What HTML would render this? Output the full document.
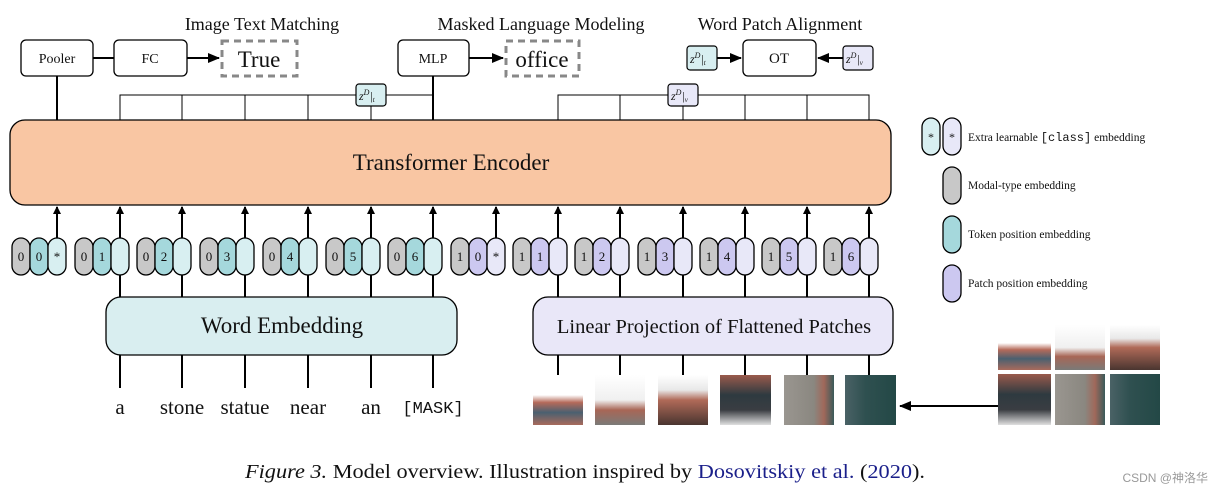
<!DOCTYPE html>
<html><head><meta charset="utf-8"><style>
body{margin:0;background:#fff}
svg{display:block}
text{font-family:"Liberation Serif",serif;fill:#111}
</style></head><body>
<svg width="1222" height="495" viewBox="0 0 1222 495" xmlns="http://www.w3.org/2000/svg">
<defs>
<marker id="ah" markerWidth="8" markerHeight="8" refX="7" refY="4" orient="auto" markerUnits="userSpaceOnUse"><path d="M0,0 L8,4 L0,8 Z" fill="#000"/></marker>
<marker id="ah2" markerWidth="12" markerHeight="10" refX="11" refY="5" orient="auto" markerUnits="userSpaceOnUse"><path d="M0,0 L12,5 L0,10 Z" fill="#000"/></marker>
<linearGradient id="p1" x1="0" y1="0" x2="0" y2="1"><stop offset="0" stop-color="#fff"/><stop offset="0.4" stop-color="#fff"/><stop offset="0.55" stop-color="#b56a5a"/><stop offset="0.75" stop-color="#4a6070"/><stop offset="1" stop-color="#a86a5c"/></linearGradient>
<linearGradient id="p2" x1="0" y1="0" x2="0" y2="1"><stop offset="0" stop-color="#fff"/><stop offset="0.5" stop-color="#f0f0f0"/><stop offset="0.7" stop-color="#a86656"/><stop offset="1" stop-color="#7a7a78"/></linearGradient>
<linearGradient id="p3" x1="0" y1="0" x2="0" y2="1"><stop offset="0" stop-color="#fff"/><stop offset="0.3" stop-color="#e8e8e8"/><stop offset="0.5" stop-color="#b06a58"/><stop offset="1" stop-color="#4a3530"/></linearGradient>
<linearGradient id="p4" x1="0" y1="0" x2="0" y2="1"><stop offset="0" stop-color="#9a5a4c"/><stop offset="0.4" stop-color="#2e3a40"/><stop offset="0.7" stop-color="#3a3d42"/><stop offset="1" stop-color="#e0e0e0"/></linearGradient>
<linearGradient id="p5" x1="0" y1="0" x2="1" y2="0"><stop offset="0" stop-color="#9a9690"/><stop offset="0.6" stop-color="#8a8780"/><stop offset="0.8" stop-color="#a0685a"/><stop offset="1" stop-color="#3a5a5a"/></linearGradient>
<linearGradient id="p6" x1="0" y1="0" x2="1" y2="0"><stop offset="0" stop-color="#4a6266"/><stop offset="0.4" stop-color="#2f5050"/><stop offset="1" stop-color="#234846"/></linearGradient>
</defs>

<text x="262" y="30" font-size="18" text-anchor="middle">Image Text Matching</text>
<text x="541" y="30" font-size="18" text-anchor="middle">Masked Language Modeling</text>
<text x="780" y="30" font-size="18" text-anchor="middle">Word Patch Alignment</text>

<g stroke="#000" stroke-width="1.3" fill="#fff">
<rect x="21" y="40" width="72" height="36" rx="5"/>
<rect x="114" y="40" width="73" height="36" rx="5"/>
<rect x="398" y="40" width="71" height="36" rx="5"/>
<rect x="743" y="40" width="73" height="36" rx="5"/>
</g>
<text x="57" y="63" font-size="14" text-anchor="middle">Pooler</text>
<text x="150" y="63" font-size="14" text-anchor="middle">FC</text>
<text x="433" y="63" font-size="14" text-anchor="middle">MLP</text>
<text x="779" y="63" font-size="15" text-anchor="middle">OT</text>
<g stroke="#888" stroke-width="3" stroke-dasharray="7,5" fill="none">
<rect x="222" y="41" width="75" height="35"/>
<rect x="506" y="41" width="73" height="35"/>
</g>
<text x="259" y="67" font-size="23" text-anchor="middle">True</text>
<text x="542" y="67" font-size="23" text-anchor="middle">office</text>

<g stroke="#000" stroke-width="2" fill="none">
<line x1="93" y1="58" x2="114" y2="58"/>
<line x1="187" y1="58" x2="219" y2="58" marker-end="url(#ah2)"/>
<line x1="469" y1="58" x2="503" y2="58" marker-end="url(#ah2)"/>
<line x1="717" y1="58" x2="741" y2="58" marker-end="url(#ah2)"/>
<line x1="843" y1="58" x2="818" y2="58" marker-end="url(#ah2)"/>
<line x1="57" y1="76" x2="57" y2="120"/>
<line x1="433" y1="76" x2="433" y2="120"/>
</g>
<g stroke="#000" stroke-width="1" fill="none">
<polyline points="120,120 120,95 433,95"/>
<line x1="182" y1="95" x2="182" y2="120"/><line x1="245" y1="95" x2="245" y2="120"/><line x1="308" y1="95" x2="308" y2="120"/><line x1="371" y1="95" x2="371" y2="120"/>
<polyline points="558,120 558,95 869,95 869,120"/>
<line x1="620" y1="95" x2="620" y2="120"/><line x1="683" y1="95" x2="683" y2="120"/><line x1="745" y1="95" x2="745" y2="120"/><line x1="807" y1="95" x2="807" y2="120"/>
</g>
<g stroke="#000" stroke-width="1.2">
<rect x="356" y="84" width="30" height="22" rx="3" fill="#d8eff1"/>
<rect x="668" y="84" width="30" height="22" rx="3" fill="#e8e8f8"/>
<rect x="687" y="46" width="30" height="24" rx="3" fill="#d8eff1"/>
<rect x="843" y="46" width="30" height="24" rx="3" fill="#e8e8f8"/>
</g>
<g font-size="12" font-style="italic">
<text x="359" y="100">z<tspan dy="-5" font-size="8">D</tspan><tspan dy="5">|</tspan><tspan font-size="7" dy="2">t</tspan></text>
<text x="671" y="100">z<tspan dy="-5" font-size="8">D</tspan><tspan dy="5">|</tspan><tspan font-size="7" dy="2">v</tspan></text>
<text x="690" y="63">z<tspan dy="-5" font-size="8">D</tspan><tspan dy="5">|</tspan><tspan font-size="7" dy="2">t</tspan></text>
<text x="846" y="63">z<tspan dy="-5" font-size="8">D</tspan><tspan dy="5">|</tspan><tspan font-size="7" dy="2">v</tspan></text>
</g>

<rect x="10" y="120" width="881" height="85" rx="15" fill="#f9c6a3" stroke="#000" stroke-width="1.3"/>
<text x="451" y="170" font-size="23" text-anchor="middle">Transformer Encoder</text>

<g stroke="#000" stroke-width="2" marker-end="url(#ah)">
<line x1="57" y1="238" x2="57" y2="207"/><line x1="120" y1="238" x2="120" y2="207"/><line x1="182" y1="238" x2="182" y2="207"/><line x1="245" y1="238" x2="245" y2="207"/><line x1="308" y1="238" x2="308" y2="207"/><line x1="371" y1="238" x2="371" y2="207"/><line x1="433" y1="238" x2="433" y2="207"/><line x1="496" y1="238" x2="496" y2="207"/><line x1="558" y1="238" x2="558" y2="207"/><line x1="620" y1="238" x2="620" y2="207"/><line x1="683" y1="238" x2="683" y2="207"/><line x1="745" y1="238" x2="745" y2="207"/><line x1="807" y1="238" x2="807" y2="207"/><line x1="869" y1="238" x2="869" y2="207"/>
</g>

<g stroke="#000" stroke-width="1.3">
<rect x="12" y="238" width="18" height="37" rx="9" fill="#c8c8c8"/><rect x="30" y="238" width="18" height="37" rx="9" fill="#a5d8dc"/><rect x="48" y="238" width="18" height="37" rx="9" fill="#d8eff1"/>
<rect x="75" y="238" width="18" height="37" rx="9" fill="#c8c8c8"/><rect x="93" y="238" width="18" height="37" rx="9" fill="#a5d8dc"/><rect x="111" y="238" width="18" height="37" rx="9" fill="#d8eff1"/>
<rect x="137" y="238" width="18" height="37" rx="9" fill="#c8c8c8"/><rect x="155" y="238" width="18" height="37" rx="9" fill="#a5d8dc"/><rect x="173" y="238" width="18" height="37" rx="9" fill="#d8eff1"/>
<rect x="200" y="238" width="18" height="37" rx="9" fill="#c8c8c8"/><rect x="218" y="238" width="18" height="37" rx="9" fill="#a5d8dc"/><rect x="236" y="238" width="18" height="37" rx="9" fill="#d8eff1"/>
<rect x="263" y="238" width="18" height="37" rx="9" fill="#c8c8c8"/><rect x="281" y="238" width="18" height="37" rx="9" fill="#a5d8dc"/><rect x="299" y="238" width="18" height="37" rx="9" fill="#d8eff1"/>
<rect x="326" y="238" width="18" height="37" rx="9" fill="#c8c8c8"/><rect x="344" y="238" width="18" height="37" rx="9" fill="#a5d8dc"/><rect x="362" y="238" width="18" height="37" rx="9" fill="#d8eff1"/>
<rect x="388" y="238" width="18" height="37" rx="9" fill="#c8c8c8"/><rect x="406" y="238" width="18" height="37" rx="9" fill="#a5d8dc"/><rect x="424" y="238" width="18" height="37" rx="9" fill="#d8eff1"/>
<rect x="451" y="238" width="18" height="37" rx="9" fill="#c8c8c8"/><rect x="469" y="238" width="18" height="37" rx="9" fill="#ccc8f0"/><rect x="487" y="238" width="18" height="37" rx="9" fill="#e8e8f8"/>
<rect x="513" y="238" width="18" height="37" rx="9" fill="#c8c8c8"/><rect x="531" y="238" width="18" height="37" rx="9" fill="#ccc8f0"/><rect x="549" y="238" width="18" height="37" rx="9" fill="#e8e8f8"/>
<rect x="575" y="238" width="18" height="37" rx="9" fill="#c8c8c8"/><rect x="593" y="238" width="18" height="37" rx="9" fill="#ccc8f0"/><rect x="611" y="238" width="18" height="37" rx="9" fill="#e8e8f8"/>
<rect x="638" y="238" width="18" height="37" rx="9" fill="#c8c8c8"/><rect x="656" y="238" width="18" height="37" rx="9" fill="#ccc8f0"/><rect x="674" y="238" width="18" height="37" rx="9" fill="#e8e8f8"/>
<rect x="700" y="238" width="18" height="37" rx="9" fill="#c8c8c8"/><rect x="718" y="238" width="18" height="37" rx="9" fill="#ccc8f0"/><rect x="736" y="238" width="18" height="37" rx="9" fill="#e8e8f8"/>
<rect x="762" y="238" width="18" height="37" rx="9" fill="#c8c8c8"/><rect x="780" y="238" width="18" height="37" rx="9" fill="#ccc8f0"/><rect x="798" y="238" width="18" height="37" rx="9" fill="#e8e8f8"/>
<rect x="824" y="238" width="18" height="37" rx="9" fill="#c8c8c8"/><rect x="842" y="238" width="18" height="37" rx="9" fill="#ccc8f0"/><rect x="860" y="238" width="18" height="37" rx="9" fill="#e8e8f8"/>
</g>
<g font-size="13" text-anchor="middle">
<text x="21" y="261">0</text><text x="39" y="261">0</text><text x="57" y="261">*</text>
<text x="84" y="261">0</text><text x="102" y="261">1</text>
<text x="146" y="261">0</text><text x="164" y="261">2</text>
<text x="209" y="261">0</text><text x="227" y="261">3</text>
<text x="272" y="261">0</text><text x="290" y="261">4</text>
<text x="335" y="261">0</text><text x="353" y="261">5</text>
<text x="397" y="261">0</text><text x="415" y="261">6</text>
<text x="460" y="261">1</text><text x="478" y="261">0</text><text x="496" y="261">*</text>
<text x="522" y="261">1</text><text x="540" y="261">1</text>
<text x="584" y="261">1</text><text x="602" y="261">2</text>
<text x="647" y="261">1</text><text x="665" y="261">3</text>
<text x="709" y="261">1</text><text x="727" y="261">4</text>
<text x="771" y="261">1</text><text x="789" y="261">5</text>
<text x="833" y="261">1</text><text x="851" y="261">6</text>
</g>

<g stroke="#000" stroke-width="2">
<line x1="120" y1="275" x2="120" y2="388"/><line x1="182" y1="275" x2="182" y2="388"/><line x1="245" y1="275" x2="245" y2="388"/><line x1="308" y1="275" x2="308" y2="388"/><line x1="371" y1="275" x2="371" y2="388"/><line x1="433" y1="275" x2="433" y2="388"/>
<line x1="558" y1="275" x2="558" y2="384"/><line x1="620" y1="275" x2="620" y2="384"/><line x1="683" y1="275" x2="683" y2="384"/><line x1="745" y1="275" x2="745" y2="376"/><line x1="807" y1="275" x2="807" y2="376"/><line x1="869" y1="275" x2="869" y2="376"/>
</g>
<rect x="106" y="297" width="351" height="58" rx="15" fill="#d9eef0" stroke="#000" stroke-width="1.3"/>
<text x="282" y="333" font-size="23" text-anchor="middle">Word Embedding</text>
<rect x="533" y="297" width="360" height="58" rx="15" fill="#e9e7f8" stroke="#000" stroke-width="1.3"/>
<text x="714" y="333" font-size="20.5" text-anchor="middle">Linear Projection of Flattened Patches</text>

<g font-size="21" text-anchor="middle">
<text x="120" y="414">a</text><text x="182" y="414">stone</text><text x="245" y="414">statue</text><text x="308" y="414">near</text><text x="371" y="414">an</text>
<text x="433" y="413" style="font-family:'Liberation Mono',monospace;font-size:17px">[MASK]</text>
</g>

<rect x="533" y="375" width="50" height="50" fill="url(#p1)"/>
<rect x="595" y="375" width="50" height="50" fill="url(#p2)"/>
<rect x="658" y="375" width="50" height="50" fill="url(#p3)"/>
<rect x="720" y="375" width="51" height="50" fill="url(#p4)"/>
<rect x="784" y="375" width="50" height="50" fill="url(#p5)"/>
<rect x="845" y="375" width="51" height="50" fill="url(#p6)"/>
<line x1="998" y1="406" x2="900" y2="406" stroke="#000" stroke-width="2" marker-end="url(#ah2)"/>
<rect x="998" y="325" width="53" height="45" fill="url(#p1)"/>
<rect x="1055" y="325" width="50" height="45" fill="url(#p2)"/>
<rect x="1110" y="325" width="50" height="45" fill="url(#p3)"/>
<rect x="998" y="374" width="53" height="51" fill="url(#p4)"/>
<rect x="1055" y="374" width="50" height="51" fill="url(#p5)"/>
<rect x="1110" y="374" width="50" height="51" fill="url(#p6)"/>

<g stroke="#000" stroke-width="1.3">
<rect x="922" y="118" width="18" height="37" rx="9" fill="#d8eff1"/><rect x="943" y="118" width="18" height="37" rx="9" fill="#e8e8f8"/>
<rect x="943" y="167" width="18" height="37" rx="9" fill="#c8c8c8"/>
<rect x="943" y="216" width="18" height="37" rx="9" fill="#a5d8dc"/>
<rect x="943" y="265" width="18" height="37" rx="9" fill="#ccc8f0"/>
</g>
<text x="931" y="141" font-size="12" text-anchor="middle">*</text><text x="952" y="141" font-size="12" text-anchor="middle">*</text>
<g font-size="11.5">
<text x="968" y="141">Extra learnable <tspan style="font-family:'Liberation Mono',monospace;font-size:12px">[class]</tspan> embedding</text>
<text x="968" y="189">Modal-type embedding</text>
<text x="968" y="238">Token position embedding</text>
<text x="968" y="287">Patch position embedding</text>
</g>

<text x="245" y="478" font-size="20" textLength="680" lengthAdjust="spacingAndGlyphs"><tspan font-style="italic">Figure 3.</tspan> Model overview. Illustration inspired by <tspan style="fill:#1a1f8a">Dosovitskiy et al.</tspan> (<tspan style="fill:#1a1f8a">2020</tspan>).</text>
<text x="1208" y="482" font-size="12" text-anchor="end" style="fill:#999;font-family:'Liberation Sans','Noto Sans CJK SC',sans-serif">CSDN @神洛华</text>
</svg>
</body></html>
